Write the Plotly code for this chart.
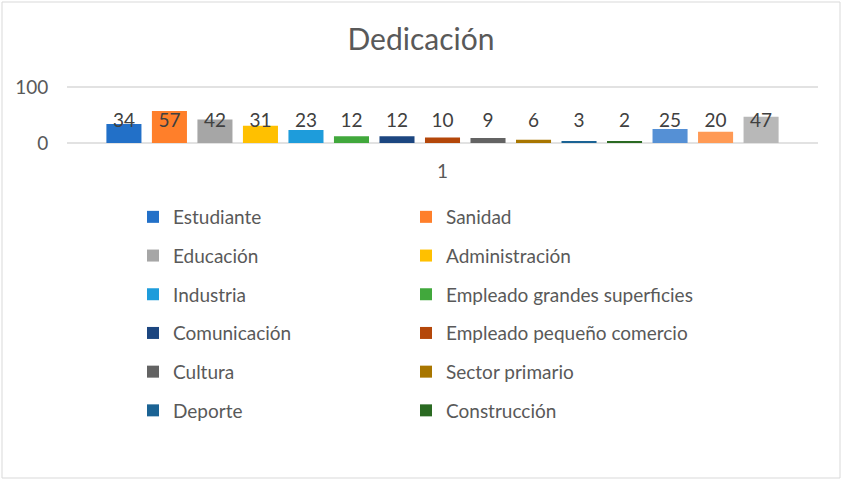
import plotly.graph_objects as go

categories = ["1"]
series_names = [
    "Estudiante", "Sanidad", "Educación", "Administración", "Industria",
    "Empleado grandes superficies", "Comunicación", "Empleado pequeño comercio",
    "Cultura", "Sector primario", "Deporte", "Construcción",
    "Serie 13", "Serie 14", "Serie 15",
]
series_values = [34, 57, 42, 31, 23, 12, 12, 10, 9, 6, 3, 2, 25, 20, 47]
series_colors = [
    "#2270C8", "#FF7F2A", "#A6A6A6", "#FFC000", "#1E9CDB", "#41A83C",
    "#1C4680", "#B4470A", "#636363", "#A87600", "#1B6394", "#2A6A22",
    "#5590D5", "#FF9A55", "#B8B8B8",
]
shown_in_legend = [True] * 12 + [False] * 3
y_ticks = [0, 100]

LABEL_LEVEL = 37.5
TEXT = "#595959"
GRID = "#D9D9D9"
FONT = "Lato"
FS = 19

fig = go.Figure()
for i, (name, val, col, show) in enumerate(zip(series_names, series_values, series_colors, shown_in_legend)):
    fig.add_trace(go.Bar(
        x=categories, y=[val], name=name, marker_color=col,
        marker_line_width=0, showlegend=show, legendgroup=name,
        legend="legend" if i % 2 == 0 else "legend2",
    ))
for i, (name, val) in enumerate(zip(series_names, series_values)):
    fig.add_trace(go.Scatter(
        x=categories, y=[LABEL_LEVEL], mode="text", text=[str(val)],
        textfont=dict(size=FS, color="#404040", family=FONT),
        showlegend=False, hoverinfo="skip", cliponaxis=False,
    ))

W, H = 842, 480
L, R, T, B = 67, 24, 86, 336
pw, ph = W - L - R, H - T - B
# 100 units span 56 px (gridline 100 at y=87, 0 at y=143)
u_per_px = 100 / 56
Y_RANGE = [-1 * u_per_px, 100 + 1 * u_per_px]

legend_common = dict(xref="container", yref="container", xanchor="left", yanchor="top",
                     traceorder="grouped", tracegroupgap=11, maxheight=400,
                     font=dict(size=FS, color=TEXT, family=FONT),
                     bgcolor="rgba(0,0,0,0)")

fig.update_layout(
    width=W, height=H,
    margin=dict(l=L, r=R, t=T, b=B, autoexpand=False),
    paper_bgcolor="white", plot_bgcolor="white",
    barmode="group", bargap=0.091, bargroupgap=0.23,
    scattermode="group", scattergap=0.091,
    font=dict(family=FONT, color=TEXT, size=FS),
    title=dict(text="Dedicación", x=0.5, xanchor="center", xref="container",
               y=1 - 39 / H, yanchor="middle", yref="container",
               font=dict(size=30, color=TEXT, family=FONT)),
    xaxis=dict(type="category", showgrid=False, showline=False, zeroline=False,
               ticks="outside", ticklen=10, tickcolor="rgba(0,0,0,0)",
               tickfont=dict(size=FS, color=TEXT)),
    yaxis=dict(range=Y_RANGE, tickvals=y_ticks, showgrid=False,
               zeroline=False, showline=False,
               ticks="outside", ticklen=14, tickcolor="rgba(0,0,0,0)",
               tickfont=dict(size=FS, color=TEXT)),
    legend=dict(x=133 / W, y=1 - 198 / H, **legend_common),
    legend2=dict(x=406 / W, y=1 - 198 / H, **legend_common),
    showlegend=True,
)

# horizontal gridlines at the tick values
for v in y_ticks:
    fig.add_shape(type="line", xref="paper", yref="y", x0=0, x1=1, y0=v, y1=v,
                  line=dict(color=GRID, width=1.5), layer="below")

# chart border
fig.add_shape(type="rect", xref="paper", yref="paper",
              x0=(2 - L) / pw, x1=(840 - L) / pw,
              y0=(T + ph - 478) / ph, y1=(T + ph - 2) / ph,
              line=dict(color=GRID, width=1), fillcolor="rgba(0,0,0,0)", layer="below")

fig.write_html("out.html", config={"displayModeBar": False},
               post_script="document.body.style.margin='0';document.body.style.overflow='hidden';")
